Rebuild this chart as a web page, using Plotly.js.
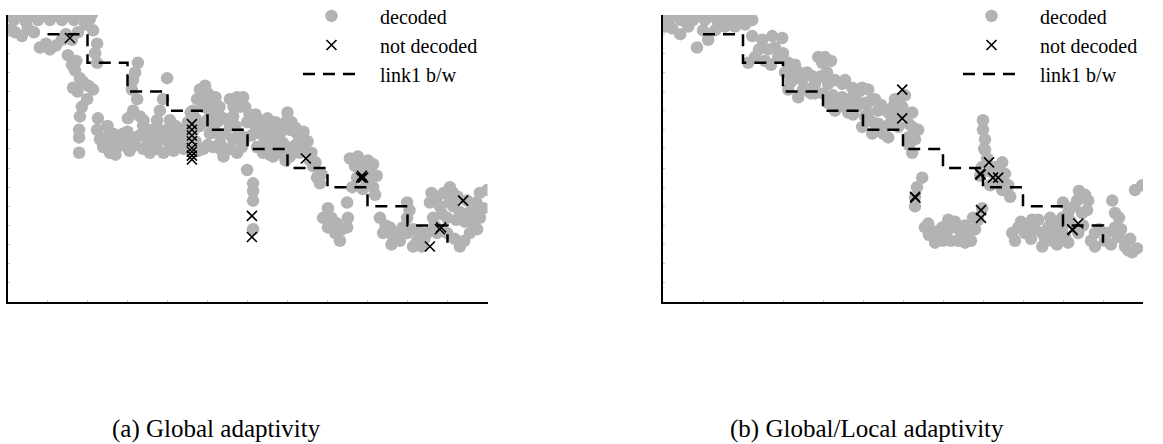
<!DOCTYPE html>
<html>
<head>
<meta charset="utf-8">
<script src="https://cdn.plot.ly/plotly-3.0.1.min.js"></script>
<style>html,body{margin:0;padding:0;background:#fff;}#chart{width:1163px;height:444px;}</style>
</head>
<body>
<div id="chart"></div>
<script>
// ---- data (x: time, y: bandwidth; axes are unlabeled in the original) ----
const linkX = [10,20,30,40,50,60,70,80,90,100,110];
const linkY = [14,12.5,11,10,9,8,7,6,5,4,3.1];

const decodedA = [
 [0.1,15.05],[1.6,14.74],[3.1,15.05],[4.6,14.64],[6.1,15.05],[7.6,14.74],[9.1,15.05],[10.6,14.74],[12.1,15.05],[13.6,14.74],[15.1,15.05],[16.6,14.74],[18.1,15.05],[19.6,14.85],[21.1,15.05],
 [0.4,14.2],[1.9,14.1],[3.6,13.9],[5.1,14.3],[6.6,14.1],[8.1,13.3],[9.6,13.5],[10.6,13.2],[12.1,13.4],[13.6,13.7],[14.6,14.0],[16.1,13.7],[17.6,14.1],[19.4,14.5],[20.6,14.8],
 [15.1,12.9],[16.1,12.4],[16.9,12.1],[18.1,11.7],[16.4,11.2],[18.9,11.5],[21.4,11.1],[19.9,10.6],[18.6,10.2],[18.1,9.7],[17.9,9.0],[17.9,8.6],[17.9,7.8],[21.4,14.2],[22.4,13.5],[21.9,13.0],[22.4,12.5],
 [17.5,11.0],[20.2,11.3],[17.2,12.6],
 [22.6,9.6],[22.4,9.0],[23.1,8.5],[23.9,8.1],[25.6,7.8],[27.4,8.1],[28.1,8.5],[26.4,8.8],[28.9,8.8],[29.9,8.1],[31.1,8.6],
 [24.5,8.6],[25,9.2],[26,8.2],[27,7.7],[29,8.3],[30,8.9],[30.5,7.9],[32,8.2],[33,8.7],[34,9.5],[35,9.0],[36,8.0],[37,8.8],
 [32.6,12.5],[31.9,12.0],[31.4,11.6],[31.1,11.1],[32.4,10.6],[31.4,10.0],[30.1,9.6],[33.1,9.7],[33.9,9.2],[34.9,8.5],[33.9,8.0],[35.6,7.8],
 [39.9,11.7],
 [38.9,10.6],[38.1,10.0],[37.4,9.5],[36.4,9.0],[36.4,8.5],[37.4,8.0],[38.9,8.5],[39.9,9.0],[40.6,9.5],[41.4,8.8],[42.4,8.3],[43.6,8.5],[44.4,8.8],[45.1,9.4],
 [38,9.0],[39,7.8],[40.5,8.3],[41.5,7.9],[42,9.2],[43,9.0],[44,8.0],[45,8.5],
 [46.4,10.0],[47.4,10.6],[48.1,11.1],[49.4,11.3],[50.1,10.9],[51.1,10.4],[51.9,9.9],[52.4,9.4],[52.6,8.8],[53.1,8.3],[53.6,7.9],[48.9,10.2],[49.9,9.5],[48.1,9.2],[50.6,8.8],[51.4,8.1],
 [45.8,9.9],[46.6,9.0],[47,8.4],[47.6,7.9],[49,8.0],[50,8.2],[50.5,10.0],[52,10.7],[53,10.2],[54,9.6],[54.5,8.8],[54.6,8.0],[54,7.6],[49.5,10.8],[51,9.2],[47,9.6],
 [55.6,10.6],[57.4,10.7],[58.1,10.2],[56.4,9.7],[55.6,9.2],[56.4,8.5],[55.6,8.0],[57.4,7.8],[58.9,8.3],
 [57,9.2],[57.8,8.8],[56.5,10.2],
 [58.9,10.7],[59.4,10.2],[59.9,9.4],[59.4,8.6],[58.6,8.1],
 [59.9,6.9],[61.4,6.2],[61.4,5.8],[61.4,5.3],[61.4,3.8],
 [61.9,9.2],[63.1,8.8],[64.4,8.5],[65.6,8.8],[66.9,8.5],[68.1,8.8],[69.9,9.5],[68.9,9.2],[70.6,9.0],[72.4,8.8],[73.1,8.5],[73.9,8.1],[74.9,7.8],[75.6,7.4],[76.4,7.1],[77.4,6.5],[78.1,6.2],[62.4,8.1],[63.9,7.8],[66.4,7.6],[68.1,7.8],[70.6,7.6],[71.4,8.1],[64.9,8.1],[68.9,8.3],[66.4,8.1],
 [60.5,9.8],[61,8.7],[62,9.8],[63,9.5],[64,9.2],[65,9.6],[66,9.1],[67,9.4],[67.5,8.0],[69.5,8.0],[70,9.9],[71,9.4],[72,9.1],[72,8.2],[73,7.8],[74,8.9],[75,8.4],[76,7.8],[77,7.3],[78.5,6.7],[65.5,7.7],[69.5,7.4],
 [80.1,4.9],[78.9,4.4],[80.1,3.9],[81.9,3.6],[83.6,3.8],[83.1,3.2],[84.9,3.9],[85.1,4.4],[84.9,5.2],
 [81,4.4],[82.4,4.1],
 [85.6,7.5],[87.6,7.6],[90.1,7.4],[91.4,7.2],[86.9,7.1],[89.4,6.9],[87.4,6.5],[89.9,6.3],[91.4,6.0],[91.9,5.6],
 [86.2,6.0],[88.2,7.2],[90.5,6.7],[88.8,5.9],[92.3,6.6],
 [93.1,4.4],[93.9,3.6],[95.6,3.9],[97.4,3.6],[98.1,3.2],[99.9,3.6],[99.9,4.4],[99.9,5.2],[101.4,3.8],[102.4,3.2],[103.6,2.9],[101.4,2.9],[96.4,3.4],
 [94.5,4.0],[96,3.0],[98.8,3.9],[100.5,4.8],[102.8,3.7],[104.2,3.3],
 [105.6,5.2],[107.4,5.5],[109.1,5.7],[110.6,6.0],[111.4,5.7],[108.1,5.0],[106.4,4.4],[109.9,4.4],[111.4,5.0],[113.1,4.7],[115.6,4.7],[116.4,4.1],[117.4,3.8],[118.1,4.4],[115.6,3.6],[113.1,2.9],[109.9,3.6],[107.4,3.6],[104.9,3.6],[118.1,5.7],[119.9,5.85],[114.9,5.3],
 [106,5.7],[108.6,4.6],[110.5,5.2],[112.2,4.3],[112.5,5.5],[114.3,4.2],[116.8,4.6],[117.2,5.2],[119,4.9],[111.8,3.3],[114.2,3.2],[106.8,4.0]
];
const lostA = [
 [15.6,13.8],[46.1,9.3],[46.1,9.0],[46.1,8.7],[46.1,8.4],[46.1,8.05],[46.1,7.85],[46.1,7.65],[46.1,7.45],
 [61.1,4.5],[61.1,3.4],[74.6,7.5],[88.4,6.5],[88.9,6.5],[88.6,6.6],[105.6,2.9],[108.1,3.8],[108.4,3.9],[113.9,5.3]
];

const decodedB = [
 [0,15.05],[1.5,14.74],[3,15.05],[4.5,14.74],[6,15.05],[7.5,14.74],[9,15.05],[10.5,14.74],[12,15.05],[13.5,14.74],[15,15.05],[16.5,14.74],[18,15.05],[19.5,14.74],[21,15.05],[22.3,14.74],
 [0.5,14.4],[2.3,14.3],[4.3,14.0],[6.3,14.4],[8.5,13.3],[10,14.2],[11.3,13.7],[13,14.2],[15.5,14.4],[18,14.4],[20.5,14.5],
 [22.3,13.9],[24.8,13.7],[27.3,13.9],[29.8,13.8],[23,12.8],[26.3,13.2],[28.8,12.8],[21.3,12.5],[31.3,12.5],
 [24,13.2],[25.5,12.6],[27,12.4],[28,13.3],[30,13.0],[30.5,12.0],[32,11.5],[33,12.4],[34,12.0],[35,11.1],[36,12.0],[37,10.9],
 [32.3,12.0],[34.8,11.6],[37.3,11.8],[38.8,12.8],[40.5,12.8],[39.8,12.5],[36.3,11.1],[33.8,10.7],[31.3,11.1],[38,10.9],[41.3,11.4],[43,11.6],
 [38,11.4],[39.5,11.8],[40,10.9],[41,12.0],[42,12.6],[42.5,10.8],
 [44.8,11.4],[47.3,11.2],[49.8,11.2],[51.3,11.1],[44.8,10.7],[43,10.0],[46.3,9.9],[41.3,10.4],[45.5,10.2],[48,10.6],[50.5,10.4],[53,10.6],
 [44,10.3],[45.5,11.6],[46.5,10.6],[47.5,9.8],[48.5,10.2],[49,11.0],[50.5,9.7],[51.8,10.5],[52.5,9.4],
 [51.3,9.9],[53.8,10.0],[56.3,9.9],[49.8,9.15],[52.3,8.8],[55.5,9.15],[56.3,8.6],[58.8,9.15],[58,10.6],[59.8,10.2],
 [54,9.3],[54.5,10.3],[55,8.8],[57,9.4],[57.5,10.2],[59,9.7],
 [58.8,10.6],[62.3,9.9],[62.3,9.15],[63,8.5],[62.3,7.8],[63.8,9.0],[61.3,8.6],[60.5,10.8],
 [60.5,9.9],[61.5,9.3],[61.5,8.2],
 [64.8,6.5],[63.5,6.0],[63,5.0],[63,5.5],
 [65.5,3.9],[67.3,3.6],[68,3.1],[69.8,3.9],[71.3,4.3],[72.5,3.9],[73.8,3.2],[75.5,3.1],[76.3,3.6],[78,3.8],[78.8,4.3],[70,3.2],[66.3,4.1],[79.8,4.9],
 [66.5,3.5],[68.5,3.7],[70.8,3.6],[72,3.2],[73,4.2],[74.5,3.6],[75.5,4.0],[77,3.2],[77.5,4.4],
 [80,9.0],[80.5,8.5],[80.5,7.95],[79.8,7.06],[79.3,6.6],[83,7.06],[84.8,7.3],[85.5,6.7],[86.3,6.1],[86.8,5.5],[84.8,5.85],[81.8,6.1],[80,9.5],
 [80.3,8.0],[81,7.5],[82,6.8],[83.5,6.3],[84,6.9],[85,6.2],[86,5.8],
 [87.3,3.6],[88.8,3.9],[90.5,3.6],[92.3,4.3],[93,3.8],[94.8,3.6],[96.3,3.9],[97.3,3.2],[94.8,2.9],[98,3.6],[99.8,3.8],[100,5.2],[101.3,4.65],[101.3,3.1],[103.5,5.3],[104.8,4.65],[103.8,3.6],[106.3,5.3],[99.8,4.4],
 [88,3.2],[89.5,4.2],[91,3.9],[92,3.3],[93.8,4.3],[95.5,3.3],[96.8,4.4],[98.5,3.0],[99,4.0],[100.5,3.4],[102,4.2],[102.8,5.0],[104,5.8],[105,4.0],[106,4.8],[107,3.2],[105.5,5.6],
 [108,3.6],[108,2.9],[110.5,3.2],[112.3,5.3],[113,4.65],[113,3.9],[113.8,3.4],[115.5,3.2],[116.3,2.7],[117.3,2.6],[115.5,2.9],[118,5.85],[119.8,6.1],
 [109,3.8],[111,3.6],[112,3.0],[114.5,3.8],[114,4.4],[116.8,3.3],[118.5,2.8]
];
const lostB = [
 [59.8,11.1],[59.8,9.6],[63,5.5],[63.1,5.45],[79.5,4.8],[79.5,4.4],[79.3,6.7],[79.4,6.65],[81.5,7.3],[82.5,6.5],[83.8,6.5],[102.3,3.8],[102.4,3.75],[103.8,4.1]
];

const legendLabels = ['decoded', 'not decoded', 'link1 b/w'];
const captions = ['(a) Global adaptivity', '(b) Global/Local adaptivity'];

// ---- styles ----
const GREY = '#b3b3b3';
const PAD = '\u00a0\u00a0\u00a0';
const xs = a => a.map(p => p[0]);
const ys = a => a.map(p => p[1]);

function panel(dec, lost, xa, ya, leg) {
  return [
    {type:'scatter', mode:'markers', x: xs(dec), y: ys(dec), xaxis: xa, yaxis: ya,
     name: PAD + legendLabels[0], legend: leg, legendrank: 1,
     marker:{color: GREY, size: 12.5, line:{width:0}}},
    {type:'scatter', mode:'lines', x: linkX, y: linkY, xaxis: xa, yaxis: ya,
     name: PAD + legendLabels[2], legend: leg, legendrank: 3,
     line:{color:'#000', width:2.5, dash:'12px,8px', shape:'hv'}},
    {type:'scatter', mode:'markers', x: xs(lost), y: ys(lost), xaxis: xa, yaxis: ya,
     name: PAD + legendLabels[1], legend: leg, legendrank: 2,
     marker:{symbol:'x-thin-open', color:'#000', size: 10, line:{color:'#000', width:1.6}}}
  ];
}

const data = [].concat(panel(decodedA, lostA, 'x', 'y', 'legend'),
                       panel(decodedB, lostB, 'x2', 'y2', 'legend2'));

const W = 1163, H = 444;
const SERIF = 'Liberation Serif, Times New Roman, serif';
const axX = dom => ({domain: dom, range:[0,120], showline:true, linecolor:'#000', linewidth:1.8,
  showgrid:false, zeroline:false, showticklabels:false, ticks:'inside', ticklen:2, tickcolor:'#c8c8c8', tickwidth:1, dtick:10, tick0:0});
const axY = anchor => ({domain:[1-302/H, 1-15/H], range:[0,15], anchor: anchor, showline:true, linecolor:'#000', linewidth:1.8,
  showgrid:false, zeroline:false, showticklabels:false, ticks:'inside', ticklen:2, tickcolor:'#c8c8c8', tickwidth:1, dtick:1, tick0:0});
const legFont = {family: SERIF, size:20, color:'#000'};
const legBase = {font: legFont, bgcolor:'rgba(0,0,0,0)', borderwidth:0, itemwidth:57, tracegroupgap:0,
  yanchor:'top', xanchor:'left', y:1.008, traceorder:'normal', itemclick:false};

const layout = {
  width: W, height: H,
  margin:{l:0, r:0, t:0, b:0, autoexpand:false},
  paper_bgcolor:'#fff', plot_bgcolor:'#fff',
  showlegend: true,
  font: {family: SERIF},
  xaxis: Object.assign(axX([7.5/W, 487.5/W]), {anchor:'y'}),
  yaxis: axY('x'),
  xaxis2: Object.assign(axX([663/W, 1143/W]), {anchor:'y2'}),
  yaxis2: axY('x2'),
  legend: Object.assign({}, legBase, {x: 298/W}),
  legend2: Object.assign({}, legBase, {x: 958/W}),
  annotations: [
    {text: captions[0], xref:'paper', yref:'paper', x: 216/W, y: 1-429/H, xanchor:'center', yanchor:'middle',
     showarrow:false, font:{family: SERIF, size:25, color:'#000'}},
    {text: captions[1], xref:'paper', yref:'paper', x: 867/W, y: 1-429/H, xanchor:'center', yanchor:'middle',
     showarrow:false, font:{family: SERIF, size:25, color:'#000'}}
  ]
};

Plotly.newPlot('chart', data, layout, {staticPlot:true, displayModeBar:false});
</script>
</body>
</html>
